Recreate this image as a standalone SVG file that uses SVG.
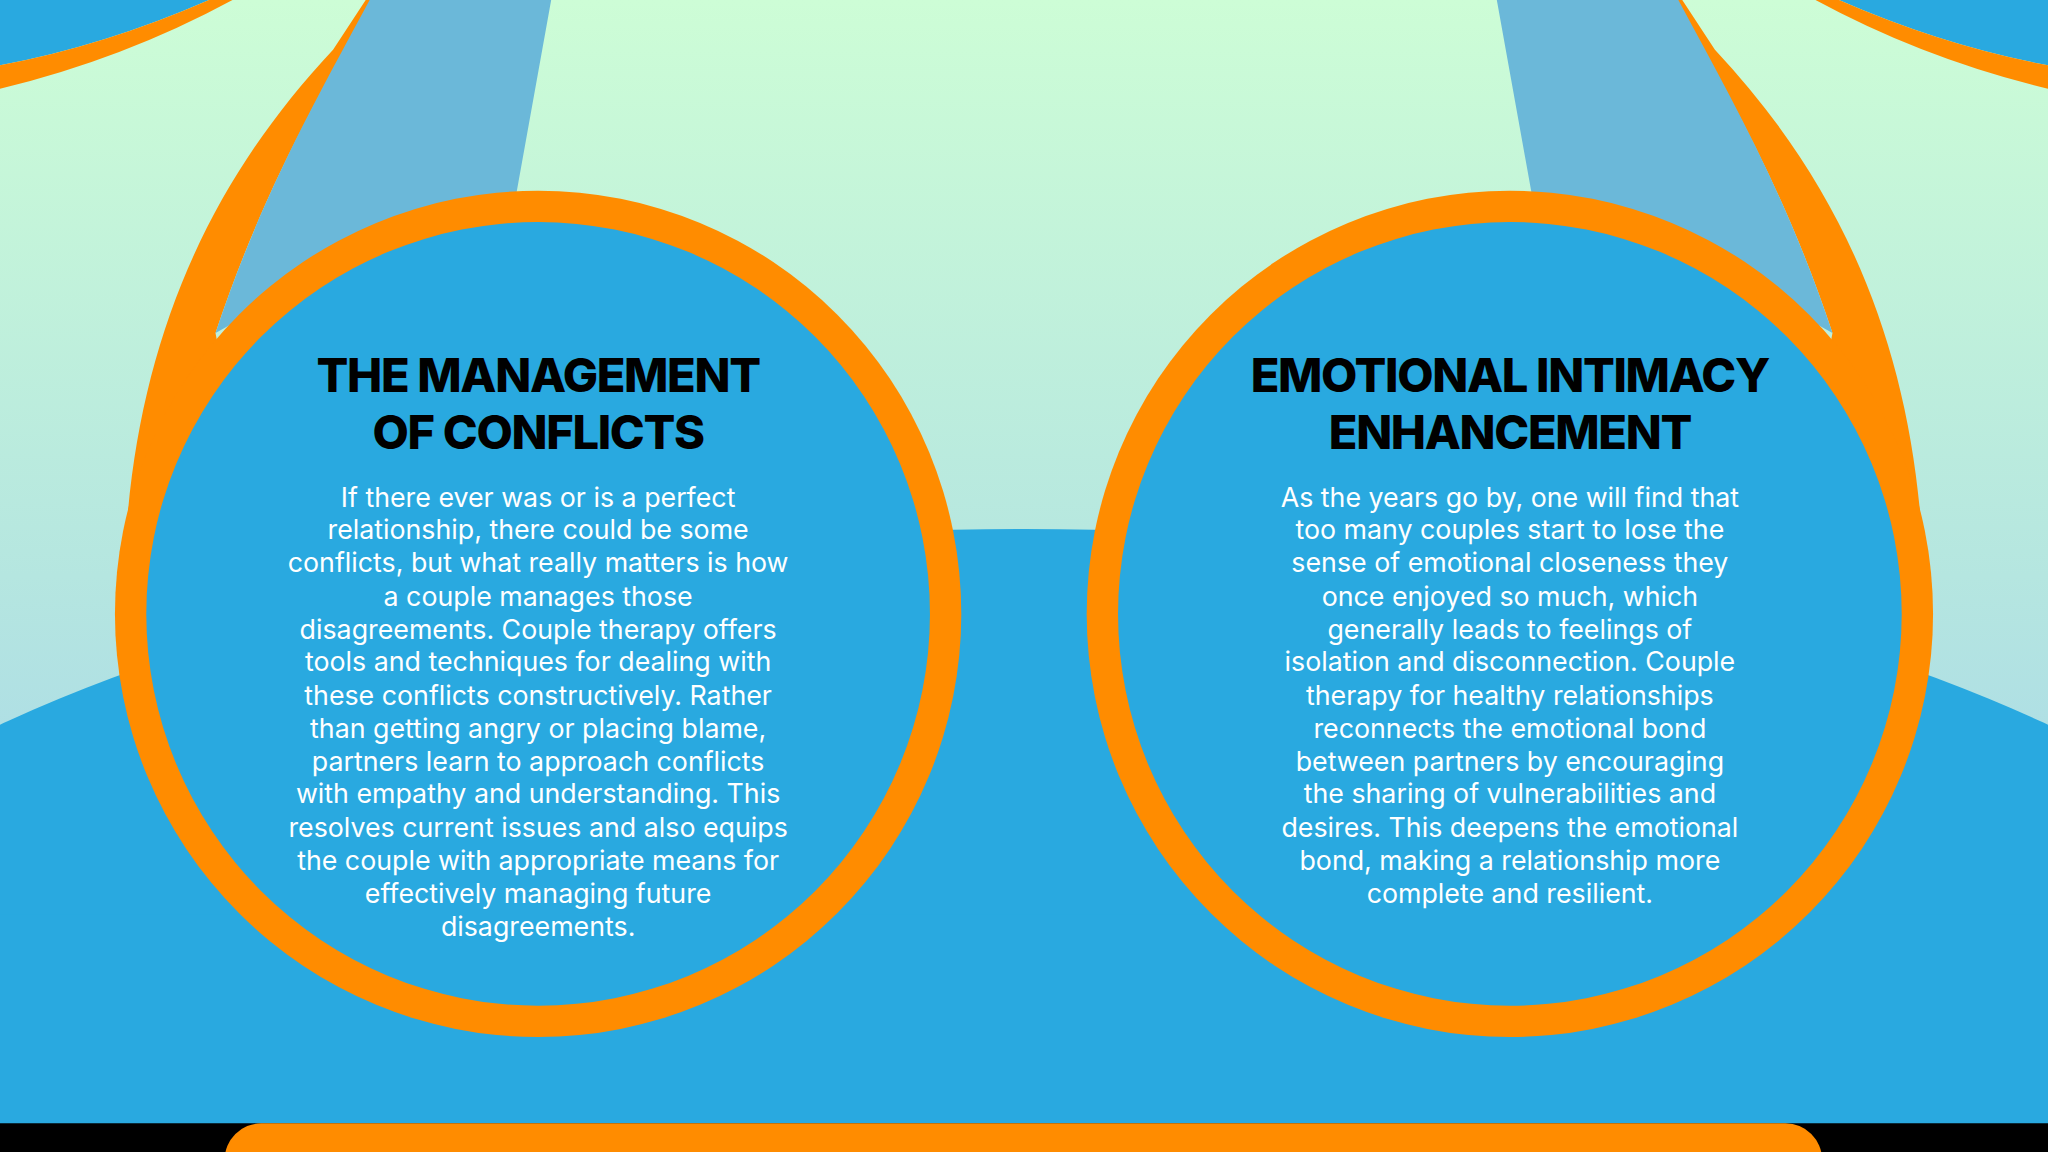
<svg xmlns="http://www.w3.org/2000/svg" width="2048" height="1152" viewBox="0 0 2048 1152">
<defs>
<linearGradient id="bg" x1="0" y1="0" x2="0" y2="1">
<stop offset="0" stop-color="#cdfdd6"/><stop offset="0.5" stop-color="#b5e6e0"/><stop offset="1" stop-color="#9fcdf0"/>
</linearGradient>
<g id="side">
<path d="M0 0 L160 0 Q80 35 0 50 Z" fill="#29a9e0"/>
<path d="M0 50 Q80 35 160 0 L178 0 Q95 45 0 68 Z" fill="#ff8c00"/>
<path d="M255 38 C150 150 100 280 95 440 L200 440 L165 255 C200 150 240 80 285 0 L280 0 Z" fill="#ff8c00"/>
<path d="M283 0 L422 0 L395 150 L300 180 L165 255 C200 150 240 80 283 0 Z" fill="#6bb8d9"/>
</g>
</defs>
<style>
.t{font-family:Inter,"Liberation Sans",sans-serif;font-weight:800;font-size:36px;fill:#000;text-anchor:middle;letter-spacing:-1px}
.b{font-family:Inter,"Liberation Sans",sans-serif;font-size:20.5px;fill:#fff;text-anchor:middle}
</style>
<g transform="scale(1.30612)">
<rect width="1568" height="882" fill="url(#bg)"/>
<g id="decor">
<use href="#side"/>
<use href="#side" transform="translate(1568,0) scale(-1,1)"/>
<ellipse cx="784" cy="907" rx="1100" ry="502" fill="#29a9e0"/>
<rect x="0" y="700" width="1568" height="160" fill="#29a9e0"/>
<rect x="0" y="860" width="1568" height="22" fill="#000"/>
<rect x="172" y="860" width="1223" height="60" rx="28" fill="#ff8c00"/>
</g>
<g id="node-left">
<circle cx="412" cy="470" r="324" fill="#ff8c00"/>
<circle cx="412" cy="470" r="300" fill="#29a9e0"/>
<text class="t" x="412" y="300">THE MANAGEMENT</text>
<text class="t" x="412" y="344">OF CONFLICTS</text>
<text class="b" x="412" y="388">If there ever was or is a perfect</text>
<text class="b" x="412" y="413">relationship, there could be some</text>
<text class="b" x="412" y="438">conflicts, but what really matters is how</text>
<text class="b" x="412" y="464">a couple manages those</text>
<text class="b" x="412" y="489">disagreements. Couple therapy offers</text>
<text class="b" x="412" y="514">tools and techniques for dealing with</text>
<text class="b" x="412" y="540">these conflicts constructively. Rather</text>
<text class="b" x="412" y="565">than getting angry or placing blame,</text>
<text class="b" x="412" y="590">partners learn to approach conflicts</text>
<text class="b" x="412" y="615">with empathy and understanding. This</text>
<text class="b" x="412" y="641">resolves current issues and also equips</text>
<text class="b" x="412" y="666">the couple with appropriate means for</text>
<text class="b" x="412" y="691">effectively managing future</text>
<text class="b" x="412" y="717">disagreements.</text>
</g>
<g id="node-right">
<circle cx="1156" cy="470" r="324" fill="#ff8c00"/>
<circle cx="1156" cy="470" r="300" fill="#29a9e0"/>
<text class="t" x="1156" y="300">EMOTIONAL INTIMACY</text>
<text class="t" x="1156" y="344">ENHANCEMENT</text>
<text class="b" x="1156" y="388">As the years go by, one will find that</text>
<text class="b" x="1156" y="413">too many couples start to lose the</text>
<text class="b" x="1156" y="438">sense of emotional closeness they</text>
<text class="b" x="1156" y="464">once enjoyed so much, which</text>
<text class="b" x="1156" y="489">generally leads to feelings of</text>
<text class="b" x="1156" y="514">isolation and disconnection. Couple</text>
<text class="b" x="1156" y="540">therapy for healthy relationships</text>
<text class="b" x="1156" y="565">reconnects the emotional bond</text>
<text class="b" x="1156" y="590">between partners by encouraging</text>
<text class="b" x="1156" y="615">the sharing of vulnerabilities and</text>
<text class="b" x="1156" y="641">desires. This deepens the emotional</text>
<text class="b" x="1156" y="666">bond, making a relationship more</text>
<text class="b" x="1156" y="691">complete and resilient.</text>
</g>
<g id="connectors"/>
</g>
</svg>
